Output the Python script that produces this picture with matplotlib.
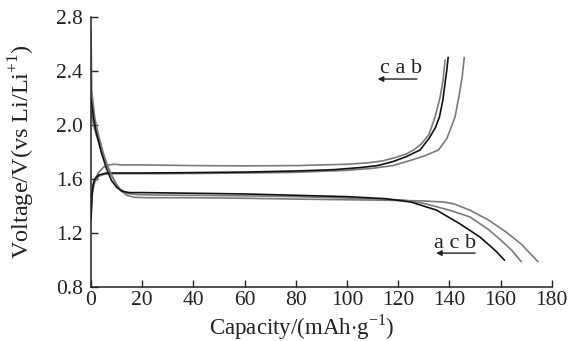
import matplotlib
matplotlib.use("Agg")
import matplotlib.pyplot as plt

# ---- data ----
# charge curves
cap_ch_a = [0, 0.3, 0.8, 1.5, 3, 6, 20, 40, 60, 80, 95, 105, 112, 118, 123, 128.5, 132, 134.5, 136.1, 137.4, 138.3, 139.0, 139.5]
v_ch_a   = [1.30, 1.45, 1.56, 1.60, 1.63, 1.645, 1.645, 1.648, 1.652, 1.66, 1.67, 1.685, 1.70, 1.73, 1.765, 1.815, 1.90, 1.98, 2.06, 2.18, 2.31, 2.41, 2.50]
cap_ch_c = [0, 0.5, 1.5, 3, 5, 7, 9, 12, 20, 40, 60, 80, 100, 108, 114, 119, 123, 126, 129, 132, 134.4, 136.3, 137.5, 138.3]
v_ch_c   = [1.35, 1.52, 1.60, 1.65, 1.69, 1.705, 1.71, 1.705, 1.705, 1.70, 1.698, 1.70, 1.71, 1.72, 1.735, 1.76, 1.785, 1.815, 1.86, 1.93, 2.06, 2.20, 2.33, 2.48]
cap_ch_b = [0, 0.5, 1.5, 3, 5, 8, 15, 30, 60, 80, 100, 110, 118, 125, 130, 135.7, 139, 142.2, 143.8, 145, 145.8]
v_ch_b   = [1.30, 1.50, 1.58, 1.62, 1.635, 1.64, 1.64, 1.64, 1.645, 1.65, 1.665, 1.68, 1.70, 1.74, 1.77, 1.815, 1.90, 2.06, 2.22, 2.36, 2.50]
# discharge curves
cap_dis_a = [0, 1, 2, 4, 6, 8, 10, 12, 15, 20, 40, 60, 80, 100, 115, 125, 135, 144, 152, 158, 161.5]
v_dis_a   = [2.20, 2.05, 1.95, 1.80, 1.68, 1.59, 1.54, 1.51, 1.50, 1.50, 1.495, 1.49, 1.48, 1.47, 1.455, 1.43, 1.37, 1.27, 1.17, 1.07, 1.00]
cap_dis_c = [0, 0.3, 1.5, 3, 5, 7, 9, 11, 14, 18, 25, 40, 60, 80, 100, 115, 122, 130, 140, 148, 155, 160, 164.5, 168]
v_dis_c   = [2.70, 2.25, 2.05, 1.92, 1.78, 1.67, 1.59, 1.53, 1.495, 1.485, 1.482, 1.48, 1.476, 1.47, 1.46, 1.45, 1.445, 1.42, 1.37, 1.32, 1.23, 1.15, 1.07, 0.99]
cap_dis_b = [0, 1, 2, 4, 6, 8, 10, 12, 14, 17, 22, 40, 60, 80, 100, 120, 130, 138, 142, 148, 155, 162, 168, 174.5]
v_dis_b   = [2.10, 2.00, 1.93, 1.82, 1.72, 1.63, 1.56, 1.51, 1.48, 1.465, 1.462, 1.462, 1.458, 1.452, 1.447, 1.442, 1.438, 1.43, 1.415, 1.37, 1.30, 1.21, 1.12, 0.99]

xticks = [0, 20, 40, 60, 80, 100, 120, 140, 160, 180]
yticks = [0.8, 1.2, 1.6, 2.0, 2.4, 2.8]

BLACK = "#111111"
GRAY = "#7a7a7a"
TXT = "#222222"

plt.rcParams['font.family'] = ['Liberation Serif', 'DejaVu Serif']
plt.rcParams['mathtext.fontset'] = 'custom'
plt.rcParams['mathtext.rm'] = 'Liberation Serif'

fig = plt.figure(figsize=(5.76, 3.41), dpi=100)
ax = fig.add_axes([0.158, 0.158, 0.800, 0.792])

lw = 1.2
ax.plot(cap_ch_b, v_ch_b, color=GRAY, lw=lw)
ax.plot(cap_ch_c, v_ch_c, color=GRAY, lw=lw)
ax.plot(cap_ch_a, v_ch_a, color=BLACK, lw=lw)
ax.plot(cap_dis_b, v_dis_b, color=GRAY, lw=lw)
ax.plot(cap_dis_c, v_dis_c, color=GRAY, lw=lw)
ax.plot(cap_dis_a, v_dis_a, color=BLACK, lw=lw)

ax.set_xlim(0, 180)
ax.set_ylim(0.8, 2.8)
ax.set_xticks(xticks)
ax.set_yticks(yticks)
ax.set_xticklabels([str(t) for t in xticks])
ax.set_yticklabels([f"{t:.1f}" for t in yticks])
ax.tick_params(direction='in', length=5, width=1, labelsize=15.5, colors=TXT)
ax.tick_params(axis='y', pad=6)
ax.tick_params(axis='x', pad=3)
for s in ['top', 'right']:
    ax.spines[s].set_visible(False)
for s in ['left', 'bottom']:
    ax.spines[s].set_linewidth(1.1)
    ax.spines[s].set_color(TXT)

ax.set_xlabel("Capacity/(mAh$\\cdot$g$^{\\mathrm{-1}}$)", fontsize=16.5, color=TXT)
ax.set_ylabel("Voltage/V(vs Li/Li$^{\\mathrm{+1}}$)", fontsize=17.5, color=TXT)
ax.xaxis.set_label_coords(0.458, -0.092)
ax.yaxis.set_label_coords(-0.117, 0.5)

# annotations
ax.text(121.3, 2.385, "c a b", fontsize=16, ha='center', va='baseline', color=TXT)
ax.annotate("", xy=(112, 2.341), xytext=(127.3, 2.341),
            arrowprops=dict(arrowstyle='-|>', color=TXT, lw=1, mutation_scale=8, shrinkA=0, shrinkB=0))
ax.text(142.4, 1.089, "a c b", fontsize=16, ha='center', va='baseline', color=TXT)
ax.annotate("", xy=(134.8, 1.052), xytext=(150, 1.052),
            arrowprops=dict(arrowstyle='-|>', color=TXT, lw=1, mutation_scale=8, shrinkA=0, shrinkB=0))

fig.savefig("out.png", dpi=100)
